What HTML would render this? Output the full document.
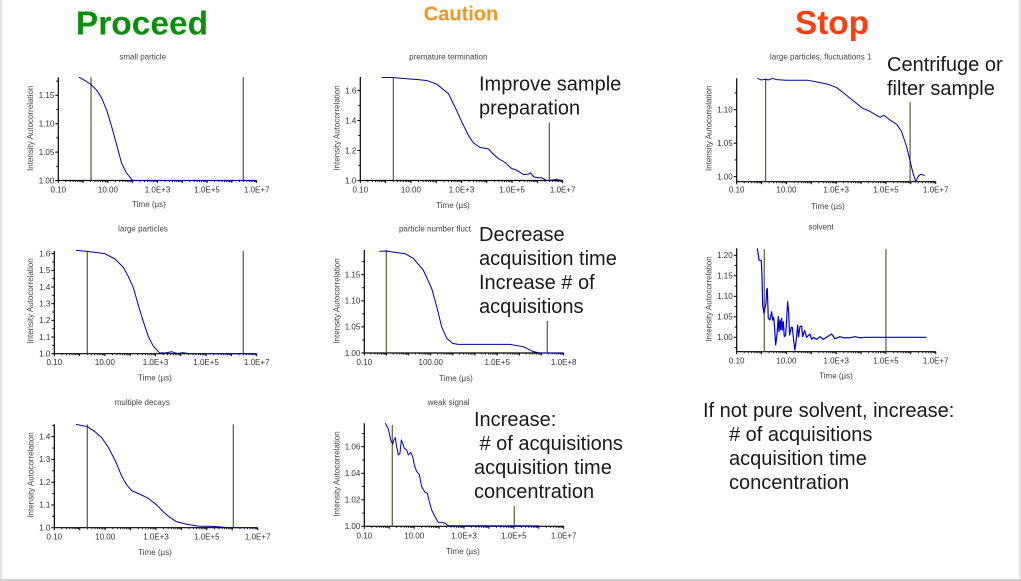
<!DOCTYPE html>
<html lang="en">
<head>
<meta charset="utf-8">
<title>Autocorrelation quality guide</title>
<style>
html,body{margin:0;padding:0;background:#fff;}
body{width:1021px;height:581px;overflow:hidden;position:relative;}
svg{position:absolute;left:0;top:0;display:block;font-family:"Liberation Sans",Arial,sans-serif;}
.t{font-size:8px;fill:#444;text-anchor:middle;}
.tick{font-size:8px;fill:#333;}
.ytitle{font-size:8px;fill:#444;text-anchor:middle;}
.note{font-size:20px;fill:#1a1a1a;}
.head{font-weight:bold;}
</style>
</head>
<body>
<svg id="slide" width="1021" height="581" viewBox="0 0 1021 581">
  <rect x="0" y="0" width="2" height="581" fill="#e2e2e2"/>
  <rect x="1019" y="0" width="2" height="581" fill="#e6e6e6"/>
  <rect x="0" y="579" width="1021" height="2" fill="#d2d2d2"/>

  <text class="head" x="142" y="34.7" font-size="33.5" fill="#0a8f0a" text-anchor="middle">Proceed</text>
  <text class="head" x="461" y="20.5" font-size="20" fill="#f7941d" text-anchor="middle">Caution</text>
  <text class="head" x="832" y="34" font-size="33.3" fill="#ff3d0d" text-anchor="middle">Stop</text>

  <g id="chart-small-particle">
    <text class="t" x="142.7" y="59.5">small particle</text>
    <text class="ytitle" transform="translate(33,128.3) rotate(-90)">Intensity Autocorrelation</text>
    <text class="t" x="149" y="207">Time (µs)</text>
  </g>
  <g id="chart-premature">
    <text class="t" x="448.3" y="59.5">premature termination</text>
    <text class="ytitle" transform="translate(339.5,128) rotate(-90)">Intensity Autocorrelation</text>
    <text class="t" x="453" y="208">Time (µs)</text>
  </g>
  <g id="chart-fluct1">
    <text class="t" x="820.7" y="59.5">large particles, fluctuations 1</text>
    <text class="ytitle" transform="translate(711.5,128.3) rotate(-90)">Intensity Autocorrelation</text>
    <text class="t" x="828" y="209">Time (µs)</text>
  </g>
  <g id="chart-large">
    <text class="t" x="143" y="231.7">large particles</text>
    <text class="ytitle" transform="translate(33,301) rotate(-90)">Intensity Autocorrelation</text>
    <text class="t" x="155" y="380.7">Time (µs)</text>
  </g>
  <g id="chart-number">
    <text class="t" x="435" y="231.7">particle number fluct</text>
    <text class="ytitle" transform="translate(339.5,301) rotate(-90)">Intensity Autocorrelation</text>
    <text class="t" x="456" y="381">Time (µs)</text>
  </g>
  <g id="chart-solvent">
    <text class="t" x="821" y="229.3">solvent</text>
    <text class="ytitle" transform="translate(711.5,299) rotate(-90)">Intensity Autocorrelation</text>
    <text class="t" x="836" y="378.7">Time (µs)</text>
  </g>
  <g id="chart-multiple">
    <text class="t" x="142.3" y="405">multiple decays</text>
    <text class="ytitle" transform="translate(33.5,475) rotate(-90)">Intensity Autocorrelation</text>
    <text class="t" x="155" y="555">Time (µs)</text>
  </g>
  <g id="chart-weak">
    <text class="t" x="448.7" y="405">weak signal</text>
    <text class="ytitle" transform="translate(339.5,474) rotate(-90)">Intensity Autocorrelation</text>
    <text class="t" x="463" y="554">Time (µs)</text>
  </g>

  <g>
    <text class="note" x="479" y="90.7">Improve sample</text>
    <text class="note" x="479" y="114.5">preparation</text>
  </g>
  <g>
    <text class="note" x="887" y="71">Centrifuge or</text>
    <text class="note" x="887" y="95">filter sample</text>
  </g>
  <g>
    <text class="note" x="479" y="241">Decrease</text>
    <text class="note" x="479" y="265">acquisition time</text>
    <text class="note" x="479" y="289">Increase # of</text>
    <text class="note" x="479" y="313">acquisitions</text>
  </g>
  <g>
    <text class="note" x="474" y="426">Increase:</text>
    <text class="note" x="479.5" y="450"># of acquisitions</text>
    <text class="note" x="474" y="474">acquisition time</text>
    <text class="note" x="474" y="498">concentration</text>
  </g>
  <g>
    <text class="note" x="703" y="417">If not pure solvent, increase:</text>
    <text class="note" x="729" y="441"># of acquisitions</text>
    <text class="note" x="729" y="465">acquisition time</text>
    <text class="note" x="729" y="489">concentration</text>
  </g>
</svg>

<script>
// Small particle
const smallLogTime = [-0.165,0.077,0.319,0.548,0.75,0.95,1.15,1.355,1.556,1.758,2,7];
const smallG = [1.182,1.176,1.169,1.159,1.145,1.124,1.095,1.0625,1.03,1.0127,1,1];
const smallYLabels = ["1.00","1.05","1.10","1.15"];
const smallXLabels = ["0.10","10.00","1.0E+3","1.0E+5","1.0E+7"];
const smallCursors = [0.319,6.46];
const smallCursorTops = [1.1817,1.1817];

// Premature termination
const prematureLogTime = [-0.156,0.305,0.7,1.23,1.62,2.02,2.48,2.74,3.01,3.27,3.47,3.73,4.06,4.26,4.45,4.72,4.98,5.18,5.44,5.64,5.73,5.86,6.03,6.17,6.37,6.5,6.76,6.96];
const prematureG = [1.687,1.687,1.68,1.673,1.667,1.642,1.58,1.491,1.391,1.302,1.251,1.22,1.211,1.176,1.147,1.12,1.08,1.069,1.04,1.042,1.051,1.024,1.018,1.018,1,1.002,1.007,1];
const prematureYLabels = ["1.0","1.2","1.4","1.6"];
const prematureXLabels = ["0.10","10.00","1.0E+3","1.0E+5","1.0E+7"];
const prematureCursors = [0.305,6.47];
const prematureCursorTops = [1.688,1.385];

// Large particles, fluctuations 1
const fluctLogTime = [-0.172,0,0.177,0.27,0.43,0.606,0.807,1.01,1.34,1.88,2.35,2.68,3.02,3.28,3.62,4.02,4.35,4.76,4.92,5.16,5.43,5.63,5.83,5.96,6.09,6.2,6.29,6.39,6.56];
const fluctG = [1.1468,1.1443,1.1453,1.1443,1.1468,1.1448,1.1443,1.1438,1.1438,1.1438,1.1403,1.1378,1.1328,1.1254,1.1154,1.103,1.0975,1.0886,1.0915,1.0846,1.0781,1.0672,1.0448,1.0249,1.005,0.9925,1,1.0035,1.002];
const fluctYLabels = ["1.00","1.05","1.10"];
const fluctXLabels = ["0.10","10.00","1.0E+3","1.0E+5","1.0E+7"];
const fluctCursors = [0.163,5.97];
const fluctCursorTops = [1.1468,1.1115];

// Large particles
const largeLogTime = [-0.142,0.305,0.609,1,1.4,1.73,1.93,2.12,2.32,2.52,2.72,2.91,3.15,3.38,3.64,3.84,4.1,4.36,7];
const largeG = [1.62,1.614,1.608,1.6,1.568,1.518,1.462,1.398,1.292,1.192,1.102,1.046,1.006,1.004,1.012,1.002,1.006,1,1];
const largeYLabels = ["1.0","1.1","1.2","1.3","1.4","1.5","1.6"];
const largeXLabels = ["0.10","10.00","1.0E+3","1.0E+5","1.0E+7"];
const largeCursors = [0.305,6.47];
const largeCursorTops = [1.616,1.616];

// Particle number fluctuation
const numberLogTime = [-0.32,-0.02,0.385,0.84,1.21,1.66,2.04,2.27,2.49,2.72,2.99,3.24,3.77,5.57,6.17,6.63,6.93,7.98];
const numberG = [1.1948,1.1954,1.1928,1.1903,1.1814,1.159,1.1239,1.0888,1.0504,1.0281,1.0185,1.0166,1.0166,1.0166,1.0121,1.0026,1,1];
const numberYLabels = ["1.00","1.05","1.10","1.15"];
const numberXLabels = ["0.10","100.00","1.0E+5","1.0E+8"];
const numberCursors = [-0.007,7.26];
const numberCursorTops = [1.1973,1.0613];

// Solvent
const solventLogTime = [-0.171,-0.104,-0.011,0.016,0.043,0.096,0.177,0.204,0.23,0.27,0.337,0.404,0.445,0.485,0.525,0.565,0.618,0.672,0.699,0.739,0.766,0.806,0.833,0.873,0.913,0.967,1.007,1.047,1.087,1.127,1.194,1.234,1.288,1.341,1.408,1.449,1.489,1.542,1.609,1.649,1.73,1.81,1.944,2.011,2.078,2.212,2.345,2.479,2.613,2.814,2.948,3.149,3.282,3.55,3.751,3.952,4.2,6.63];
const solventG = [1.217,1.1885,1.187,1.152,1.0788,1.0585,1.0828,1.1154,1.1194,1.0463,1.0422,1.0625,1.0422,1.0487,1.0219,0.9812,1.0056,1.0503,1.0137,1.0422,1.0178,1.0463,1.0178,1.0381,1.0015,1.0056,1.0422,1.0869,1.0625,1.0056,1.0243,1.0243,0.9934,0.969,1.0015,1.03,1.0015,1.0259,1.0276,1.0015,1.0162,1,1.008,0.995,1,0.995,1.0015,0.995,1,1.008,0.9967,1.0015,0.999,0.999,1.0015,0.999,1,1];
const solventYLabels = ["1.00","1.05","1.10","1.15","1.20"];
const solventXLabels = ["0.10","10.00","1.0E+3","1.0E+5","1.0E+7"];
const solventCursors = [0.108,5];
const solventCursorTops = [1.2147,1.2147];

// Multiple decays
const multipleLogTime = [-0.147,0.298,0.6,0.864,1.124,1.387,1.65,1.847,2.044,2.37,2.696,3.027,3.286,3.55,3.813,4.206,4.663,5.25,5.78,6.43];
const multipleG = [1.454,1.444,1.422,1.396,1.353,1.297,1.227,1.188,1.163,1.147,1.129,1.1,1.07,1.045,1.026,1.015,1.007,1.006,1.001,1];
const multipleYLabels = ["1.0","1.1","1.2","1.3","1.4"];
const multipleXLabels = ["0.10","10.00","1.0E+3","1.0E+5","1.0E+7"];
const multipleCursors = [0.298,6.04];
const multipleCursorTops = [1.4545,1.4545];

// Weak signal
const weakLogTime = [-0.158,-0.036,0.058,0.138,0.191,0.245,0.298,0.365,0.432,0.485,0.539,0.606,0.7,0.766,0.86,0.94,1.007,1.1,1.207,1.3,1.435,1.528,1.608,1.702,1.836,1.97,2.103,2.237,2.37,6.02];
const weakG = [1.0777,1.0735,1.0652,1.0619,1.0652,1.0669,1.0601,1.0538,1.0551,1.0652,1.0626,1.0589,1.0576,1.0538,1.0558,1.0526,1.0463,1.0413,1.0392,1.0299,1.0257,1.0249,1.0186,1.0123,1.0073,1.003,1.003,1.0023,1.0005,1.0003];
const weakYLabels = ["1.00","1.02","1.04","1.06"];
const weakXLabels = ["0.10","10.00","1.0E+3","1.0E+5","1.0E+7"];
const weakCursors = [0.123,5.017];
const weakCursorTops = [1.0765,1.0153];

const SVG_NS = 'http://www.w3.org/2000/svg';

function line(parent, x1, y1, x2, y2, stroke, width) {
  const el = document.createElementNS(SVG_NS, 'line');
  el.setAttribute('x1', x1);
  el.setAttribute('y1', y1);
  el.setAttribute('x2', x2);
  el.setAttribute('y2', y2);
  el.setAttribute('stroke', stroke);
  el.setAttribute('stroke-width', width);
  parent.appendChild(el);
  return el;
}

function label(parent, x, y, anchor, str) {
  const el = document.createElementNS(SVG_NS, 'text');
  el.setAttribute('class', 'tick');
  el.setAttribute('x', x);
  el.setAttribute('y', y);
  el.setAttribute('text-anchor', anchor);
  el.textContent = str;
  parent.appendChild(el);
  return el;
}

function drawChart(id, frame, logTime, g, yLabels, xLabels, cursors, cursorTops, curveColor, curveWidth) {
  const root = document.getElementById(id);
  const xMin = Math.log10(parseFloat(xLabels[0]));
  const xMax = Math.log10(parseFloat(xLabels[xLabels.length - 1]));
  const xScale = v => frame.left + (v - xMin) / (xMax - xMin) * (frame.right - frame.left);
  const yScale = v => frame.base - (v - frame.yMin) / (frame.yMax - frame.yMin) * (frame.base - frame.top);

  const yAxis = line(root, frame.left, frame.top, frame.left, frame.base + 0.6, '#000', 1.2);
  
  
  const xAxis = line(root, frame.left, frame.base, frame.right, frame.base, '#000', 1.2);
  
  

  // y ticks: majors at labels, one minor between neighbours
  const yVals = yLabels.map(parseFloat);
  const yStep = yVals[1] - yVals[0];
  yLabels.forEach((s, i) => {
    const y = yScale(yVals[i]);
    const tick = line(root, frame.left - 3, y, frame.left, y, '#000', 1);
    
    
    const tl = label(root, frame.left - 4, y + 2.8, 'end', s);
    
    
  });
  for (let v = yVals[0] - yStep / 2; v < frame.yMax; v += yStep) {
    if (v < frame.yMin) continue;
    const minor = line(root, frame.left - 2, yScale(v), frame.left, yScale(v), '#000', 1);
    
    
  }

  // x ticks: decades and log minors
  for (let d = Math.round(xMin); d <= Math.round(xMax); d++) {
    const major = line(root, xScale(d), frame.base, xScale(d), frame.base + 2.5, '#000', 1);
    
    
    if (d === Math.round(xMax)) break;
    for (let m = 2; m < 10; m++) {
      const xm = xScale(d + Math.log10(m));
      const minor = line(root, xm, frame.base, xm, frame.base + 1.6, '#000', 0.8);
      
      
    }
  }
  xLabels.forEach(s => {
    const tl = label(root, xScale(Math.log10(parseFloat(s))), frame.labelY, 'middle', s);
    
    
  });

  // cursors, then the curve on top of cursors and axes
  cursors.forEach((c, i) => {
    const cur = line(root, xScale(c), yScale(cursorTops[i]), xScale(c), frame.base, '#5c5c34', 1.2);
    
    
  });

  const curve = document.createElementNS(SVG_NS, 'polyline');
  curve.setAttribute('fill', 'none');
  curve.setAttribute('stroke', curveColor);
  curve.setAttribute('stroke-width', curveWidth);
  curve.setAttribute('stroke-linejoin', 'round');
  curve.setAttribute('points', logTime.map((t, i) => xScale(t).toFixed(2) + ',' + yScale(g[i]).toFixed(2)).join(' '));
  
  
  root.appendChild(curve);
}

const NAVY = '#0000a0';
drawChart('chart-small-particle', {left:58.3,right:256.7,base:180.5,top:77.3,yMin:1,yMax:1.1817,labelY:192.7}, smallLogTime, smallG, smallYLabels, smallXLabels, smallCursors, smallCursorTops, NAVY, 1);
drawChart('chart-premature', {left:360.3,right:562.7,base:180.5,top:77,yMin:1,yMax:1.69,labelY:192.7}, prematureLogTime, prematureG, prematureYLabels, prematureXLabels, prematureCursors, prematureCursorTops, NAVY, 1);
drawChart('chart-fluct1', {left:736.7,right:935.7,base:181.7,top:78.3,yMin:0.9925,yMax:1.1468,labelY:192.7}, fluctLogTime, fluctG, fluctYLabels, fluctXLabels, fluctCursors, fluctCursorTops, NAVY, 1);
drawChart('chart-large', {left:54.3,right:256.7,base:353.7,top:251,yMin:1,yMax:1.616,labelY:365}, largeLogTime, largeG, largeYLabels, largeXLabels, largeCursors, largeCursorTops, NAVY, 1);
drawChart('chart-number', {left:364.3,right:563.7,base:353,top:250,yMin:1,yMax:1.1973,labelY:365}, numberLogTime, numberG, numberYLabels, numberXLabels, numberCursors, numberCursorTops, NAVY, 1);
drawChart('chart-solvent', {left:736.7,right:935.7,base:351.7,top:248.3,yMin:0.9649,yMax:1.2171,labelY:363.3}, solventLogTime, solventG, solventYLabels, solventXLabels, solventCursors, solventCursorTops, '#0000d8', 1.2);
drawChart('chart-multiple', {left:54.3,right:257.7,base:527.7,top:424.3,yMin:1,yMax:1.4545,labelY:539.3}, multipleLogTime, multipleG, multipleYLabels, multipleXLabels, multipleCursors, multipleCursorTops, NAVY, 1);
drawChart('chart-weak', {left:364.3,right:563.7,base:526.3,top:423.3,yMin:1,yMax:1.0777,labelY:538.3}, weakLogTime, weakG, weakYLabels, weakXLabels, weakCursors, weakCursorTops, '#0000c0', 1);
</script>
</body>
</html>
